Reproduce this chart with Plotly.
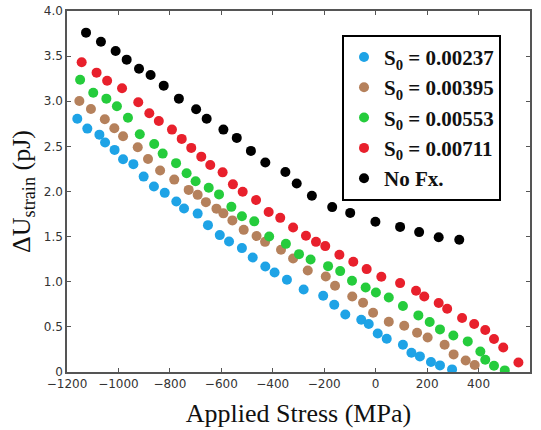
import plotly.graph_objects as go

# Applied stress (MPa) and strain energy change (pJ) for each series
x_s1 = [-1160, -1121, -1074, -1052, -1015, -982, -942, -902, -862, -820, -775, -745, -692, -652, -606, -570,
        -520, -478, -429, -393, -345, -280, -204, -161, -118, -56, -27, 8, 43, 106, 139, 172, 215, 250, 297]
y_s1 = [2.807, 2.697, 2.630, 2.542, 2.461, 2.358, 2.303, 2.165, 2.055, 1.985, 1.889, 1.811, 1.755, 1.627, 1.517,
        1.446, 1.373, 1.269, 1.169, 1.103, 1.022, 0.914, 0.845, 0.745, 0.638, 0.579, 0.531, 0.427, 0.369, 0.302,
        0.214, 0.173, 0.111, 0.073, 0.029]

x_s2 = [-1152, -1107, -1053, -1016, -982, -925, -885, -838, -783, -727, -692, -660, -619, -592, -557, -513,
        -463, -430, -368, -321, -264, -194, -158, -91, -49, -10, 51, 111, 161, 202, 268, 303, 350, 385]
y_s2 = [3.003, 2.915, 2.801, 2.701, 2.613, 2.491, 2.361, 2.232, 2.132, 2.018, 1.963, 1.882, 1.810, 1.758, 1.680,
        1.575, 1.506, 1.442, 1.354, 1.258, 1.125, 1.058, 0.955, 0.837, 0.767, 0.656, 0.557, 0.513, 0.435, 0.383,
        0.302, 0.195, 0.128, 0.077]

x_s3 = [-1149, -1098, -1047, -1006, -963, -917, -861, -828, -776, -735, -700, -649, -609, -561, -520, -472,
        -414, -349, -298, -253, -185, -138, -92, -39, 1, 51, 106, 166, 210, 250, 302, 358, 407, 426, 460, 502]
y_s3 = [3.239, 3.095, 3.029, 2.945, 2.818, 2.635, 2.527, 2.420, 2.314, 2.203, 2.114, 2.042, 1.968, 1.830, 1.725,
        1.669, 1.501, 1.420, 1.306, 1.247, 1.173, 1.118, 1.011, 0.937, 0.881, 0.826, 0.731, 0.627, 0.554, 0.472,
        0.405, 0.339, 0.228, 0.136, 0.070, 0.018]

x_s4 = [-1143, -1085, -1044, -986, -923, -880, -843, -792, -754, -717, -678, -643, -595, -555, -517, -465,
        -416, -371, -321, -271, -232, -196, -141, -87, -35, 22, 95, 157, 189, 245, 278, 336, 383, 426, 460, 496, 555]
y_s4 = [3.432, 3.317, 3.228, 3.144, 2.989, 2.867, 2.782, 2.686, 2.583, 2.483, 2.386, 2.293, 2.212, 2.079, 1.998,
        1.905, 1.772, 1.708, 1.601, 1.509, 1.442, 1.395, 1.299, 1.221, 1.140, 1.055, 0.985, 0.900, 0.837, 0.764,
        0.701, 0.598, 0.531, 0.465, 0.365, 0.272, 0.106]

x_nofx = [-1126, -1068, -1011, -968, -920, -875, -824, -765, -698, -657, -592, -540, -485, -429, -351, -307,
          -248, -169, -99, -1, 95, 169, 245, 325]
y_nofx = [3.760, 3.660, 3.557, 3.461, 3.361, 3.291, 3.173, 3.029, 2.911, 2.807, 2.686, 2.594, 2.450, 2.322,
          2.217, 2.088, 1.952, 1.827, 1.763, 1.664, 1.608, 1.550, 1.494, 1.465]

series_names = ["<b>S<sub>0</sub> = 0.00237</b>", "<b>S<sub>0</sub> = 0.00395</b>",
                "<b>S<sub>0</sub> = 0.00553</b>", "<b>S<sub>0</sub> = 0.00711</b>", "<b>No Fx.</b>"]
series_colors = ["#1ea3e6", "#b5815c", "#25cc3c", "#e8202c", "#000000"]
xs = [x_s1, x_s2, x_s3, x_s4, x_nofx]
ys = [y_s1, y_s2, y_s3, y_s4, y_nofx]

x_ticks = [-1200, -1000, -800, -600, -400, -200, 0, 200, 400, 600]
y_ticks = [0, 0.5, 1.0, 1.5, 2.0, 2.5, 3.0, 3.5, 4.0]
y_ticktext = ["0", "0.5", "1.0", "1.5", "2.0", "2.5", "3.0", "3.5", "4.0"]
x_ticktext = ["\u22121200", "\u22121000", "\u2212800", "\u2212600", "\u2212400", "\u2212200", "0", "200", "400", "600"]

fig = go.Figure()
for xv, yv, nm, col in zip(xs, ys, series_names, series_colors):
    fig.add_trace(go.Scatter(x=xv, y=yv, mode="markers", name=nm,
                             marker=dict(color=col, size=10, line=dict(width=0))))

axis_common = dict(showline=True, linecolor="#555555", linewidth=1.5, mirror="ticks",
                   ticks="inside", ticklen=4, tickcolor="#555555", showgrid=False, zeroline=False,
                   tickfont=dict(family="DejaVu Sans", size=12, color="#333333"))

fig.update_xaxes(range=[-1200, 600], tickvals=x_ticks, ticktext=x_ticktext,
                 title=dict(text="Applied Stress (MPa)", font=dict(family="Liberation Serif", size=26, color="#111111"),
                            standoff=14),
                 **axis_common)
fig.update_yaxes(range=[0, 4.0], tickvals=y_ticks, ticktext=y_ticktext,
                 title=dict(text="\u0394U<sub>strain</sub> (pJ)", font=dict(family="Liberation Serif", size=26, color="#111111"),
                            standoff=6),
                 **axis_common)

fig.update_layout(
    width=541, height=430,
    margin=dict(l=67, r=11, t=11, b=58, autoexpand=False),
    paper_bgcolor="white", plot_bgcolor="white",
    legend=dict(x=0.594, y=0.934, xanchor="left", yanchor="top",
                bordercolor="black", borderwidth=2, bgcolor="white",
                font=dict(family="Liberation Serif", size=21, color="#111111"),
                tracegroupgap=0, itemwidth=30),
    showlegend=True,
)

fig.write_html("out.html")
